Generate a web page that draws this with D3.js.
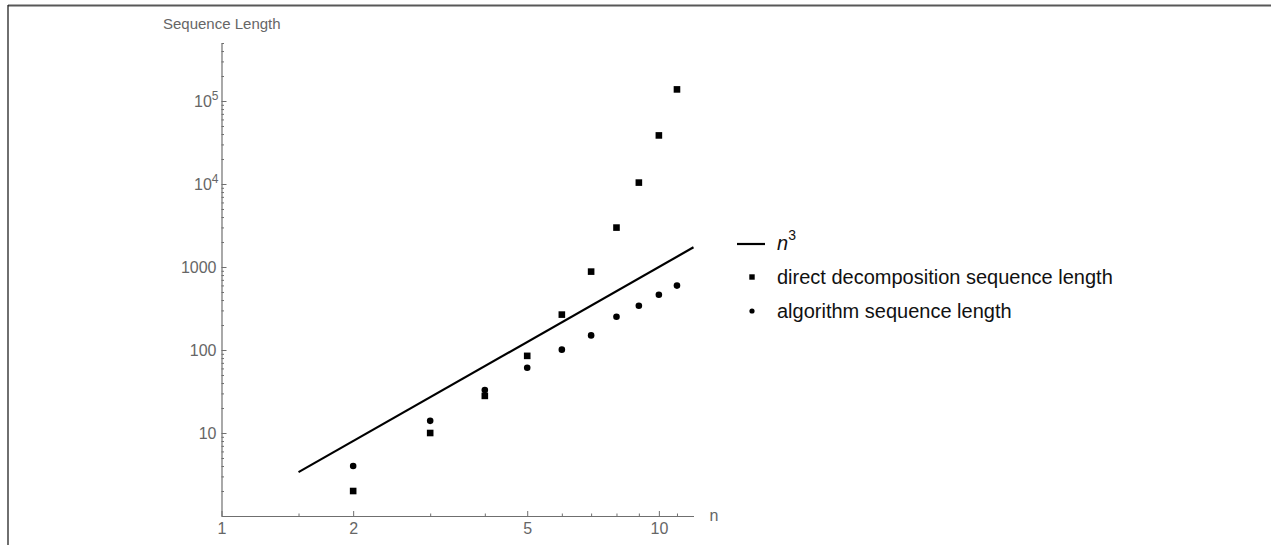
<!DOCTYPE html>
<html>
<head>
<meta charset="utf-8">
<script src="https://cdn.jsdelivr.net/npm/d3@7"></script>
<style>
  html, body { margin: 0; padding: 0; background: #fff; }
  svg { display: block; font-family: "Liberation Sans", Arial, sans-serif; }
</style>
</head>
<body>
<svg id="chart" width="1271" height="545"></svg>
<script>
// Problem size n
const nValues = [2, 3, 4, 5, 6, 7, 8, 9, 10, 11];
// Length of the sequence obtained by direct decomposition
const directLengths = [2, 10, 28, 85, 267, 880, 2985, 10400, 38500, 138000];
// Length of the sequence produced by the algorithm
const algorithmLengths = [4, 14, 33, 61, 101, 150, 252, 342, 464, 597];
// Reference curve n^3, drawn between its end points (straight on log-log axes)
const cubeN = [1.5, 12];
const cubeValues = [3.375, 1728];

// Tick values
const xMajorTicks = [1, 2, 5, 10];
const xMinorTicks = [1.5, 3, 4, 6, 7, 8, 9, 11];
const yMajorTicks = [10, 100, 1000, 10000, 100000];
const yTickLabels = [["10", ""], ["100", ""], ["1000", ""], ["10", "4"], ["10", "5"]];
const yMinorTicks = [1, 2, 3, 4, 5, 6, 7, 8, 9,
  20, 30, 40, 50, 60, 70, 80, 90,
  200, 300, 400, 500, 600, 700, 800, 900,
  2000, 3000, 4000, 5000, 6000, 7000, 8000, 9000,
  20000, 30000, 40000, 50000, 60000, 70000, 80000, 90000,
  200000, 300000, 400000, 500000];

const legendLabels = ["direct decomposition sequence length", "algorithm sequence length"];

const axisColor = "#6f6f6f";
const labelColor = "#666666";
const tickFont = 16;

const svg = d3.select("#chart");

// Frame edges
svg.append("line").attr("x1", 8).attr("x2", 1271).attr("y1", 5.5).attr("y2", 5.5)
  .attr("stroke", "#585858").attr("stroke-width", 2);
svg.append("line").attr("x1", 8).attr("x2", 8).attr("y1", 5).attr("y2", 545)
  .attr("stroke", "#222").attr("stroke-width", 1.3);

const x = d3.scaleLog().domain([1, 12]).range([221.5, 693.5]);
const y = d3.scaleLog().domain([1, 500000]).range([516, 43]);

const originX = x(1), originY = y(1);

// X axis: minor ticks
const gxMinor = svg.append("g").attr("transform", `translate(0,${originY})`)
  .call(d3.axisBottom(x).tickValues(xMinorTicks).tickSize(-2.5).tickFormat(""));
// X axis: major ticks with labels
const gx = svg.append("g").attr("transform", `translate(0,${originY})`)
  .call(d3.axisBottom(x).tickValues(xMajorTicks).tickSizeInner(-5).tickSizeOuter(0)
    .tickPadding(7).tickFormat(d3.format("d")));

// Y axis: minor ticks
const gyMinor = svg.append("g").attr("transform", `translate(${originX},0)`)
  .call(d3.axisLeft(y).tickValues(yMinorTicks).tickSize(-2.5).tickFormat(""));
// Y axis: major ticks with labels
const gy = svg.append("g").attr("transform", `translate(${originX},0)`)
  .call(d3.axisLeft(y).tickValues(yMajorTicks).tickSizeInner(-5).tickSizeOuter(0)
    .tickPadding(5).tickFormat(""));

[gxMinor, gx, gyMinor, gy].forEach(g => {
  g.select(".domain").attr("stroke", axisColor).attr("stroke-width", 1.2);
  g.selectAll(".tick line").attr("stroke", axisColor).attr("stroke-width", 1);
});
gxMinor.select(".domain").remove();
gyMinor.select(".domain").remove();

gx.selectAll(".tick text")
  .attr("font-size", tickFont).attr("fill", labelColor)
  .attr("font-family", "'Liberation Sans', Arial, sans-serif");

// Y tick labels, powers of ten written with a superscript exponent
gy.selectAll(".tick").each(function (d, i) {
  const t = d3.select(this).append("text")
    .attr("x", -5).attr("dy", "0.34em")
    .attr("text-anchor", "end")
    .attr("font-size", tickFont).attr("fill", labelColor)
    .attr("font-family", "'Liberation Sans', Arial, sans-serif");
  const [base, exp] = yTickLabels[i];
  if (exp) {
    t.attr("x", -3);
    t.append("tspan").text(base);
    t.append("tspan").attr("font-size", 12).attr("dy", "-0.55em").text(exp);
  } else {
    t.text(base);
  }
});

// Axis titles
svg.append("text").attr("x", x(12) + 16).attr("y", originY).attr("dy", "0.3em")
  .attr("font-size", tickFont).attr("fill", labelColor).text("n");
svg.append("text").attr("x", 163).attr("y", 29)
  .attr("font-size", 15).attr("fill", labelColor).text("Sequence Length");

// n^3 reference line
const cubePts = cubeN.map((n, i) => [n, cubeValues[i]]);
svg.append("path")
  .datum(cubePts)
  .attr("d", d3.line().x(d => x(d[0])).y(d => y(d[1])))
  .attr("fill", "none").attr("stroke", "#000").attr("stroke-width", 2.2);

// Direct decomposition points (squares)
const sq = 6.6;
svg.append("g").selectAll("rect")
  .data(nValues.map((n, i) => [n, directLengths[i]]))
  .join("rect")
  .attr("x", d => x(d[0]) - sq / 2).attr("y", d => y(d[1]) - sq / 2)
  .attr("width", sq).attr("height", sq).attr("fill", "#000");

// Algorithm points (circles)
svg.append("g").selectAll("circle")
  .data(nValues.map((n, i) => [n, algorithmLengths[i]]))
  .join("circle")
  .attr("cx", d => x(d[0])).attr("cy", d => y(d[1]))
  .attr("r", 3.3).attr("fill", "#000");

// Legend
const lg = svg.append("g").attr("font-size", 20).attr("fill", "#111");
lg.append("line").attr("x1", 737).attr("x2", 765).attr("y1", 244).attr("y2", 244)
  .attr("stroke", "#000").attr("stroke-width", 2.2);
const cubeLabel = lg.append("text").attr("x", 777).attr("y", 244).attr("dy", "0.3em");
cubeLabel.append("tspan").attr("font-style", "italic").text("n");
cubeLabel.append("tspan").attr("font-size", 14).attr("dy", "-0.7em").text("3");

lg.append("rect").attr("x", 752 - 2.7).attr("y", 277 - 2.7).attr("width", 5.4).attr("height", 5.4).attr("fill", "#000");
lg.append("circle").attr("cx", 752).attr("cy", 311).attr("r", 2.6).attr("fill", "#000");
lg.append("text").attr("x", 777).attr("y", 277).attr("dy", "0.35em").text(legendLabels[0]);
lg.append("text").attr("x", 777).attr("y", 311).attr("dy", "0.35em").text(legendLabels[1]);
</script>
</body>
</html>
